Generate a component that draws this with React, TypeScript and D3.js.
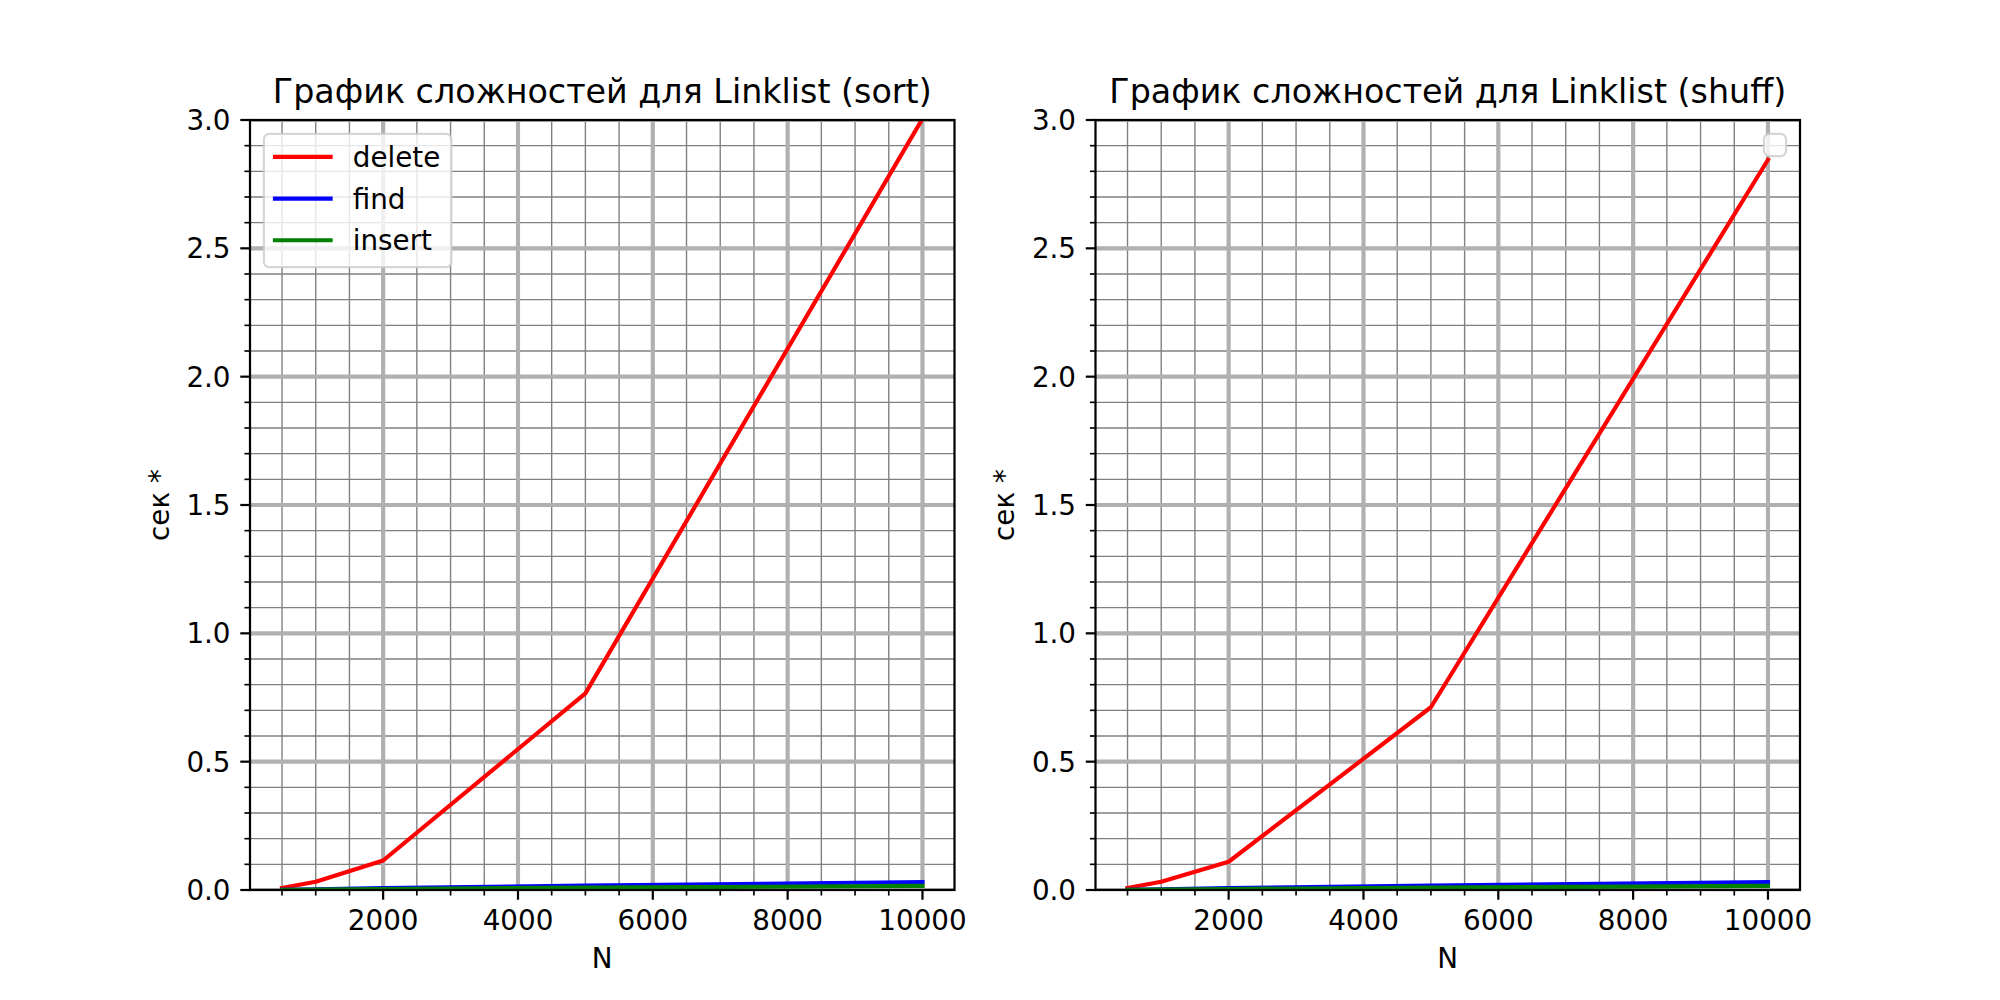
import React from "react";
import * as d3 from "d3";

const N_VALUES = [500, 1000, 2000, 5000, 10000];

const SORT_DELETE = [0.008, 0.032, 0.115, 0.766, 3.005];
const SORT_FIND = [0.001, 0.003, 0.007, 0.017, 0.031];
const SORT_INSERT = [0.001, 0.002, 0.004, 0.009, 0.016];

const SHUFF_DELETE = [0.008, 0.032, 0.11, 0.712, 2.845];
const SHUFF_FIND = [0.001, 0.003, 0.007, 0.017, 0.031];
const SHUFF_INSERT = [0.001, 0.002, 0.004, 0.009, 0.016];

const X_MAJOR_TICKS = [2000, 4000, 6000, 8000, 10000];
const Y_MAJOR_TICKS = [0, 0.5, 1.0, 1.5, 2.0, 2.5, 3.0];

const TITLES = ["График сложностей для Linklist (sort)", "График сложностей для Linklist (shuff)"];
const SERIES_NAMES = ["delete", "find", "insert"];
const SERIES_COLORS = ["#ff0000", "#0000ff", "#008000"];
const X_LABEL = "N";
const Y_LABEL = "сек *";

const DPI = 200;
const pt = (v: number) => (v * DPI) / 72;
const FS = pt(10);
const FONT = "DejaVu Sans, sans-serif";

const AX_W = 704.5;
const AX_TOP = 120;
const AX_BOTTOM = 890;
const AX_LEFTS = [250, 1095.5];

const xMinor = d3.range(500, 10500, 500).filter((v) => v % 2000 !== 0);
const yMinor = d3.range(0, 31, 1).map((v) => v / 10).filter((v) => Math.round(v * 10) % 5 !== 0);

interface PanelProps {
  left: number;
  title: string;
  series: number[][];
  showLegend: boolean;
}

function Panel({ left, title, series, showLegend }: PanelProps) {
  const x = d3.scaleLinear().domain([25, 10475]).range([left, left + AX_W]);
  const y = d3.scaleLinear().domain([0, 3]).range([AX_BOTTOM, AX_TOP]);
  const line = d3
    .line<number>()
    .x((_, i) => x(N_VALUES[i]))
    .y((d) => y(d));
  const clipId = `clip-${Math.round(left)}`;
  const majorTickLen = pt(3.5);
  const minorTickLen = pt(2);
  const tickLabelX = left - majorTickLen - pt(3.5);
  const xTickBaseline = AX_BOTTOM + majorTickLen + pt(3.5) + 0.729 * FS;
  const cx = left + AX_W / 2;

  const bpad = 0.4 * FS;
  const legLeft = left + 0.5 * FS;
  const legTop = AX_TOP + 0.5 * FS;
  const rowH = FS;
  const legW = bpad * 2 + 2 * FS + 0.8 * FS + 3.15 * FS;
  const legH = bpad * 2 + 3 * rowH + 2 * 0.5 * FS;

  return (
    <g>
      <defs>
        <clipPath id={clipId}>
          <rect x={left} y={AX_TOP} width={AX_W} height={AX_BOTTOM - AX_TOP} />
        </clipPath>
      </defs>
      <rect x={left} y={AX_TOP} width={AX_W} height={AX_BOTTOM - AX_TOP} fill="#ffffff" />
      {/* minor grid */}
      <g stroke="#808080" strokeWidth={pt(0.5)}>
        {xMinor.map((v) => (
          <line key={`xm${v}`} x1={x(v)} x2={x(v)} y1={AX_TOP} y2={AX_BOTTOM} />
        ))}
        {yMinor.map((v) => (
          <line key={`ym${v}`} x1={left} x2={left + AX_W} y1={y(v)} y2={y(v)} />
        ))}
      </g>
      {/* major grid */}
      <g stroke="#b0b0b0" strokeWidth={pt(1.5)} clipPath={`url(#${clipId})`}>
        {X_MAJOR_TICKS.map((v) => (
          <line key={`xM${v}`} x1={x(v)} x2={x(v)} y1={AX_TOP} y2={AX_BOTTOM} />
        ))}
        {Y_MAJOR_TICKS.map((v) => (
          <line key={`yM${v}`} x1={left} x2={left + AX_W} y1={y(v)} y2={y(v)} />
        ))}
      </g>
      {/* data lines */}
      <g clipPath={`url(#${clipId})`} fill="none" strokeWidth={pt(1.5)} strokeLinecap="square" strokeLinejoin="round">
        {series.map((s, i) => (
          <path key={SERIES_NAMES[i]} d={line(s) || ""} stroke={SERIES_COLORS[i]} />
        ))}
      </g>
      {/* spines */}
      <rect
        x={left}
        y={AX_TOP}
        width={AX_W}
        height={AX_BOTTOM - AX_TOP}
        fill="none"
        stroke="#000"
        strokeWidth={pt(0.8)}
        strokeLinejoin="miter"
      />
      {/* ticks */}
      <g stroke="#000">
        {X_MAJOR_TICKS.map((v) => (
          <line key={`xt${v}`} x1={x(v)} x2={x(v)} y1={AX_BOTTOM} y2={AX_BOTTOM + majorTickLen} strokeWidth={pt(0.8)} />
        ))}
        {xMinor.map((v) => (
          <line key={`xmt${v}`} x1={x(v)} x2={x(v)} y1={AX_BOTTOM} y2={AX_BOTTOM + minorTickLen} strokeWidth={pt(0.6)} />
        ))}
        {Y_MAJOR_TICKS.map((v) => (
          <line key={`yt${v}`} x1={left} x2={left - majorTickLen} y1={y(v)} y2={y(v)} strokeWidth={pt(0.8)} />
        ))}
        {yMinor.map((v) => (
          <line key={`ymt${v}`} x1={left} x2={left - minorTickLen} y1={y(v)} y2={y(v)} strokeWidth={pt(0.6)} />
        ))}
      </g>
      <g fontFamily={FONT} fontSize={FS} fill="#000">
        {X_MAJOR_TICKS.map((v) => (
          <text key={`xl${v}`} x={x(v)} y={xTickBaseline} textAnchor="middle">
            {String(v)}
          </text>
        ))}
        {Y_MAJOR_TICKS.map((v) => (
          <text key={`yl${v}`} x={tickLabelX} y={y(v) + 0.365 * FS} textAnchor="end">
            {v.toFixed(1)}
          </text>
        ))}
        <text x={cx} y={968} textAnchor="middle">
          {X_LABEL}
        </text>
        <text
          transform={`translate(${left - 81.2},${(AX_TOP + AX_BOTTOM) / 2}) rotate(-90)`}
          textAnchor="middle"
        >
          {Y_LABEL}
        </text>
        <text x={cx} y={AX_TOP - pt(6)} textAnchor="middle" fontSize={pt(12)}>
          {title}
        </text>
      </g>
      {/* legend */}
      {showLegend ? (
        <g>
          <rect
            x={legLeft}
            y={legTop}
            width={legW}
            height={legH}
            rx={0.2 * FS}
            fill="#ffffff"
            fillOpacity={0.8}
            stroke="#cccccc"
            strokeOpacity={0.8}
            strokeWidth={pt(0.8)}
          />
          {SERIES_NAMES.map((name, i) => {
            const cy = legTop + bpad + rowH * 0.5 + i * (rowH + 0.5 * FS) - 2;
            const hx = legLeft + bpad;
            return (
              <g key={name}>
                <line x1={hx} x2={hx + 2 * FS} y1={cy} y2={cy} stroke={SERIES_COLORS[i]} strokeWidth={pt(1.5)} strokeLinecap="square" />
                <text x={hx + 2.8 * FS} y={cy + 0.36 * FS} fontFamily={FONT} fontSize={FS} fill="#000">
                  {name}
                </text>
              </g>
            );
          })}
        </g>
      ) : (
        <rect
          x={left + AX_W - 0.5 * FS - 2 * bpad}
          y={AX_TOP + 0.5 * FS}
          width={2 * bpad}
          height={2 * bpad}
          rx={0.2 * FS}
          fill="#ffffff"
          fillOpacity={0.8}
          stroke="#cccccc"
          strokeOpacity={0.8}
          strokeWidth={pt(0.8)}
        />
      )}
    </g>
  );
}

export default function App() {
  return (
    <svg
      width={2000}
      height={1000}
      viewBox="0 0 2000 1000"
      style={{ position: "absolute", left: 0, top: 0, background: "#fff" }}
    >
      <rect x={0} y={0} width={2000} height={1000} fill="#fff" />
      <Panel left={AX_LEFTS[0]} title={TITLES[0]} series={[SORT_DELETE, SORT_FIND, SORT_INSERT]} showLegend={true} />
      <Panel left={AX_LEFTS[1]} title={TITLES[1]} series={[SHUFF_DELETE, SHUFF_FIND, SHUFF_INSERT]} showLegend={false} />
    </svg>
  );
}
